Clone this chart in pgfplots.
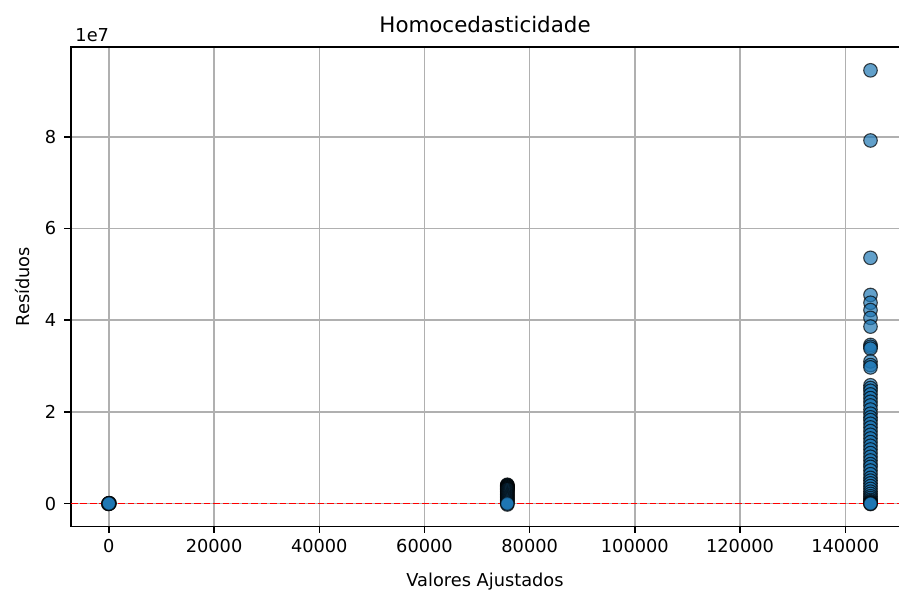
\documentclass[border=0pt]{standalone}
\usepackage{pgfplots}
\pgfplotsset{compat=1.18}
\usepackage{fontspec}
\setmainfont{DejaVu Sans}
\definecolor{mplblue}{HTML}{1F77B4}
\definecolor{gridgray}{HTML}{B0B0B0}
\definecolor{zeroline}{RGB}{255,0,0}

% residuals (units of 1e7) against fitted values
\pgfplotstableread{
x y
120 0.005
-120 -0.005
60 0.010
-60 -0.008
40 -0.003
-40 0.004
0 0.000
75750 0.41
75750 0.40
75750 0.39
75750 0.38
75750 0.37
75750 0.36
75750 0.35
75750 0.34
75750 0.33
75750 0.32
75750 0.31
75750 0.30
75750 0.28
75750 0.26
75750 0.24
75750 0.22
75750 0.20
75750 0.18
75750 0.16
75750 0.14
75750 0.12
75750 0.10
75750 0.08
75750 0.06
75750 0.04
75750 0.02
75750 -0.02
75750 0.00
144800 9.45
144800 7.92
144800 5.36
144800 4.55
144800 4.38
144800 4.22
144800 4.05
144800 3.86
144800 3.46
144800 3.42
144800 3.38
144800 3.10
144800 3.02
144800 2.97
144800 2.58
144800 2.52
144800 2.46
144800 2.38
144800 2.30
144800 2.22
144800 2.14
144800 2.05
144800 1.96
144800 1.88
144800 1.82
144800 1.74
144800 1.66
144800 1.58
144800 1.50
144800 1.42
144800 1.34
144800 1.26
144800 1.18
144800 1.10
144800 1.02
144800 0.94
144800 0.86
144800 0.80
144800 0.72
144800 0.64
144800 0.56
144800 0.50
144800 0.44
144800 0.38
144800 0.32
144800 0.26
144800 0.21
144800 0.16
144800 0.12
144800 0.08
144800 0.05
144800 0.03
144800 0.01
144800 -0.01
144800 0.00
}\residuals

\begin{document}
\begin{tikzpicture}
\begin{axis}[
  name=ax, at={(0pt,0pt)}, anchor=south west,
  width=829pt, height=480pt, scale only axis,
  clip=false,
  xmin=-7220, xmax=150240, ymin=-0.5, ymax=9.96,
  xtick={0,20000,40000,60000,80000,100000,120000,140000},
  ytick={0,2,4,6,8},
  scaled ticks=false,
  xticklabel={\pgfmathprintnumber[assume math mode=true, fixed, precision=0, 1000 sep={}]{\tick}},
  yticklabel={\pgfmathprintnumber[assume math mode=true, fixed, precision=0]{\tick}},
  grid=major,
  major grid style={gridgray, line width=1.4pt},
  axis line style={draw=none},
  tick style={black, line width=1.4pt},
  tick align=outside, major tick length=6.5pt,
  tick pos=left,
  tick label style={font=\fontsize{17.8}{20}\selectfont, inner sep=0pt},
  xticklabel style={anchor=north, yshift=-6pt},
  yticklabel style={anchor=east, xshift=-8pt},
]
\addplot[only marks, mark=*, mark size=6.8pt,
  mark options={fill=mplblue, fill opacity=0.7, draw=black, draw opacity=0.7, line width=1.1pt}]
  table[x=x, y=y] {\residuals};
% spines: left, bottom and top (the right one lies past the edge)
\draw[black, line width=1.4pt] (rel axis cs:1,0) -- (rel axis cs:0,0) -- (rel axis cs:0,1) -- (rel axis cs:1,1);
% zero reference line, over the points
\draw[draw=zeroline, draw opacity=1, line width=1.8pt, dash pattern=on 6.6pt off 2.9pt]
  (axis cs:-7220,0) -- (axis cs:150240,0);
\end{axis}
% page frame around the axis
\path (-71pt,-66pt) rectangle (829pt,527pt);
\node[anchor=base, font=\fontsize{21.4}{24}\selectfont] at (414.5pt,494pt) {Homocedasticidade};
\node[anchor=base, font=\fontsize{17.8}{20}\selectfont] at (414.5pt,-60pt) {Valores Ajustados};
\node[anchor=base, rotate=90, font=\fontsize{17.8}{20}\selectfont] at (-41pt,240pt) {Resíduos};
\node[anchor=base west, font=\fontsize{17.8}{20}\selectfont] at (1pt,485pt) {1e7};
\end{tikzpicture}
\end{document}
